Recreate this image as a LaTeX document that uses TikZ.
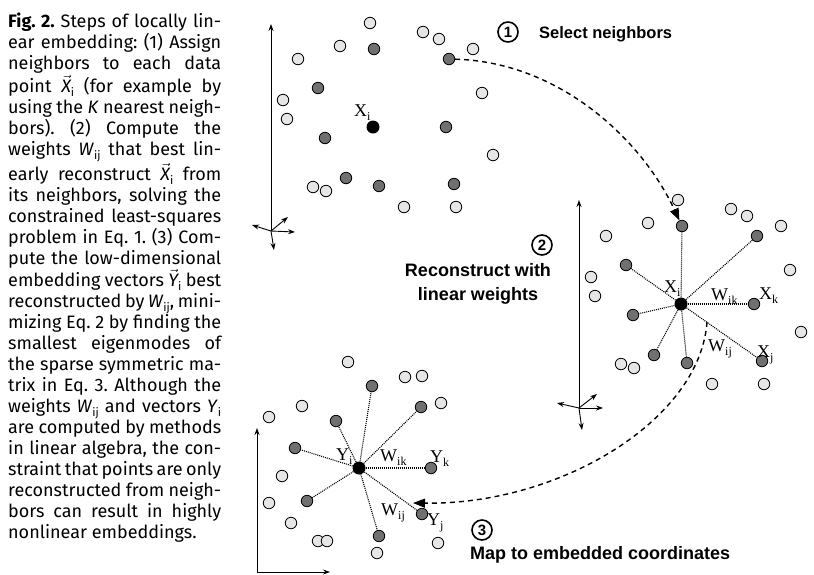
\documentclass[tikz,border=0pt]{standalone}
\usepackage{fontspec}
\setmainfont{Liberation Serif}
\newfontfamily\capfont{Fira Sans}
\newfontfamily\headfont{Liberation Sans}
\usetikzlibrary{arrows.meta}
\definecolor{PtLight}{RGB}{230,230,230}
\definecolor{PtDark}{RGB}{112,112,112}
\tikzset{
  pt_lt/.style={
    circle, draw=black, fill=PtLight, line width=0.8pt,
    minimum size=11.5pt, inner sep=0pt},
  pt_dk/.style={pt_lt, fill=PtDark},
  pt_ctr/.style={
    circle, fill=black, minimum size=13pt, inner sep=0pt},
  ax_arr/.style={-{Stealth[length=7pt,width=5pt]},line width=0.9pt},
  nb_line/.style={line width=1.1pt,dash pattern=on 1pt off 1pt},
  flow_arr/.style={-{Triangle[length=12pt,width=9pt]},line width=1.4pt,
    dash pattern=on 5pt off 4pt},
  lbl_pt/.style={font=\fontsize{18}{18}\selectfont,inner sep=0pt,anchor=base west},
  lbl_num/.style={
    circle, draw=black, line width=1.6pt, minimum size=20pt, inner sep=0pt,
    font=\headfont\bfseries\fontsize{15}{15}\selectfont},
  lbl_step/.style={font=\headfont\bfseries\fontsize{18}{24}\selectfont,
    inner sep=0pt,align=center},
}
\newcommand{\psub}[2]{#1\raisebox{-0.5ex}{\fontsize{12}{12}\selectfont #2}}
\newcommand{\csub}[1]{\raisebox{-0.45ex}{\fontsize{11.5}{11.5}\selectfont #1}}
\newcommand{\jl}[1]{\makebox[213pt][s]{#1}}
\newcommand{\cvec}[1]{$\vec{\textit{#1}}$}
\frenchspacing

\begin{document}
\begin{tikzpicture}[x=1pt,y=-1pt]
\useasboundingbox (0,0) rectangle (814,574);

% caption
\node[anchor=north west,inner sep=0pt,align=left,
  font=\capfont\fontsize{18}{21.04}\selectfont] (capt) at (8,13) {%
  \jl{\textbf{Fig. 2.} Steps of locally lin-}\\
  \jl{ear embedding: (1) Assign}\\
  \jl{neighbors to each data}\\
  \jl{point \cvec{X}\csub{i} (for example by}\\
  \jl{using the \textit{K} nearest neigh-}\\
  \jl{bors). (2) Compute the}\\
  \jl{weights \textit{W}\csub{ij} that best lin-}\\
  \jl{early reconstruct \cvec{X}\csub{i} from}\\
  \jl{its neighbors, solving the}\\
  \jl{constrained least-squares}\\
  \jl{problem in Eq. 1. (3) Com-}\\
  \jl{pute the low-dimensional}\\
  \jl{embedding vectors \cvec{Y}\csub{i} best}\\
  \jl{reconstructed by \textit{W}\csub{ij}, mini-}\\
  \jl{mizing Eq. 2 by finding the}\\
  \jl{smallest eigenmodes of}\\
  \jl{the sparse symmetric ma-}\\
  \jl{trix in Eq. 3. Although the}\\
  \jl{weights \textit{W}\csub{ij} and vectors \textit{Y}\csub{i}}\\
  \jl{are computed by methods}\\
  \jl{in linear algebra, the con-}\\
  \jl{straint that points are only}\\
  \jl{reconstructed from neigh-}\\
  \jl{bors can result in highly}\\
  nonlinear embeddings.};

% step 1: input data
\coordinate (to) at (271,231);
\coordinate (ty) at (271,24);
\coordinate (tx) at (295,232);
\coordinate (tz) at (288,217);
\coordinate (tw) at (252,225);
\coordinate (tv) at (274,250);
\foreach \e in {ty,tx,tz,tw,tv}
  \draw[ax_arr] (to) -- (\e);
\foreach \p [count=\n] in {(370,23),(423,32),(439,39),(340,46),(473,49),(298,59),(482,93),
    (283,100),(287,119),(493,155),(313,187),(326,191),(404,207),(456,207)}
  \node[pt_lt] (tl\n) at \p {};
\foreach \p [count=\n] in {(374,49),(449,59),(318,88),(446,127),(325,138),(346,178),
    (379,186),(454,184)}
  \node[pt_dk] (td\n) at \p {};
\node[pt_ctr] (txi) at (373,127) {};
\node[lbl_pt] (ltxi) at (354,116) {\psub{X}{i}};

\node[lbl_num] (n1) at (508,32) {1};
\node[lbl_step,anchor=base west,font=\headfont\bfseries\fontsize{16.5}{20}\selectfont]
  (s1) at (539,38) {Select neighbors};

% step 2: weights
\coordinate (mo) at (579,408);
\coordinate (my) at (579,200);
\coordinate (mx) at (603,408);
\coordinate (mz) at (597,394);
\coordinate (mw) at (557,403);
\coordinate (mv) at (582,430);
\foreach \e in {my,mx,mz,mw,mv}
  \draw[ax_arr] (mo) -- (\e);
\foreach \p [count=\n] in {(678,200),(731,209),(747,216),(648,223),(781,226),(606,236),
    (790,270),(591,277),(595,296),(801,332),(621,364),(634,368),(712,384),(764,384)}
  \node[pt_lt] (ml\n) at \p {};
\foreach \p [count=\n] in {(682,226),(757,236),(626,265),(754,304),(633,315),(654,355),
    (687,363),(762,361)}
  \node[pt_dk] (md\n) at \p {};
\node[pt_ctr] (mxi) at (681,304) {};
\foreach \n in {1,...,8}
  \draw[nb_line] (mxi) -- (md\n);
\node[lbl_pt] (lmxi) at (664,292) {\psub{X}{i}};
\node[lbl_pt] (lmwk) at (711,300) {\psub{W}{ik}};
\node[lbl_pt] (lmxk) at (759,299) {\psub{X}{k}};
\node[lbl_pt] (lmwj) at (708,351) {\psub{W}{ij}};
\node[lbl_pt] (lmxj) at (757,357) {\psub{X}{j}};

\node[lbl_num] (n2) at (542,245) {2};
\node[lbl_step] (s2) at (478,284) {Reconstruct with\\linear weights};

% step 3: embedding
\coordinate (bo) at (257,572);
\coordinate (by) at (257,428);
\coordinate (bx) at (330,572);
\draw[ax_arr] (bo) -- (by);
\draw[ax_arr] (bo) -- (bx);
\foreach \p [count=\n] in {(348,362),(405,377),(422,376),(302,406),(441,403),(269,417),
    (282,476),(269,503),(291,523),(318,541),(327,541),(438,543),(377,553)}
  \node[pt_lt] (bl\n) at \p {};
\foreach \p [count=\n] in {(372,386),(421,407),(336,421),(295,448),(431,468),(307,501),
    (422,514),(379,536)}
  \node[pt_dk] (bd\n) at \p {};
\node[pt_ctr] (byi) at (359,468) {};
\foreach \n in {1,...,8}
  \draw[nb_line] (byi) -- (bd\n);
\node[lbl_pt] (lbyi) at (336,460) {\psub{Y}{i}};
\node[lbl_pt] (lbwk) at (380,461) {\psub{W}{ik}};
\node[lbl_pt] (lbyk) at (430,462) {\psub{Y}{k}};
\node[lbl_pt] (lbwj) at (381,515) {\psub{W}{ij}};
\node[lbl_pt] (lbyj) at (427,525) {\psub{Y}{j}};

\node[lbl_num] (n3) at (482,530) {3};
\node[lbl_step,anchor=base west] (s3) at (470,559) {Map to embedded coordinates};

% flow between the steps
\coordinate (f2a) at (707,322);
\coordinate (f2b) at (413,503);
\draw[flow_arr] (td2) .. controls (560,62) and (642,140) .. (md1);
\draw[flow_arr] (f2a) .. controls (700,420) and (560,505) .. (f2b);
\end{tikzpicture}
\end{document}
